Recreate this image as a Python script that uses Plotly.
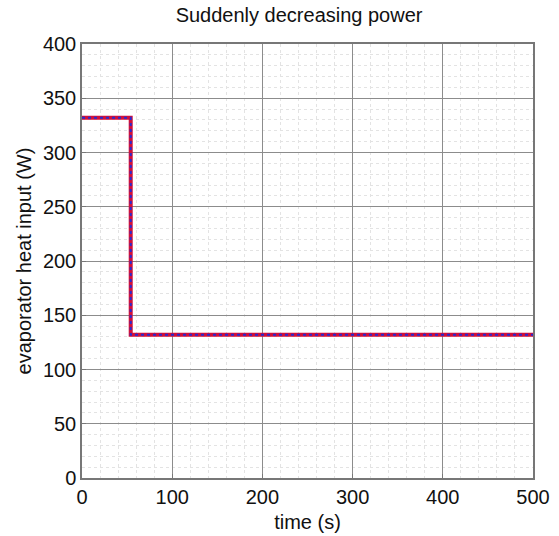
import plotly.graph_objects as go

time_s = [0, 54, 54, 500]
heat_red = [332, 332, 132, 132]
heat_blue = [332, 332, 132, 132]

x_ticks = [0, 100, 200, 300, 400, 500]
y_ticks = [0, 50, 100, 150, 200, 250, 300, 350, 400]

fig = go.Figure()
fig.add_trace(go.Scatter(x=time_s, y=heat_red, mode="lines",
                         line=dict(color="#d0103a", width=4), showlegend=False))
fig.add_trace(go.Scatter(x=time_s, y=heat_blue, mode="lines",
                         line=dict(color="#2a2ad0", width=2, dash="dot"), showlegend=False))

font = dict(family="Liberation Sans, Arial", size=20, color="#111")
fig.update_layout(
    width=559, height=536,
    margin=dict(l=82, r=26, t=44, b=58),
    paper_bgcolor="white", plot_bgcolor="white",
    title=dict(text="Suddenly decreasing power", x=0.535, xanchor="center",
               y=0.985, yanchor="top", font=font),
    font=font,
)
fig.update_xaxes(range=[0, 500], tickvals=x_ticks, showgrid=True, automargin=False,
                 gridcolor="#8c8c8c", gridwidth=1,
                 minor=dict(dtick=20, showgrid=True, gridcolor="#e3e3e3", griddash="dot"),
                 showline=True, linecolor="#777", linewidth=1.5, mirror=True,
                 ticks="inside", ticklen=4, tickcolor="#777",
                 zeroline=False, tickfont=font,
                 title=dict(text="time (s)", font=font, standoff=8))
fig.update_yaxes(range=[0, 400], tickvals=y_ticks, showgrid=True, automargin=False,
                 gridcolor="#8c8c8c", gridwidth=1,
                 minor=dict(dtick=10, showgrid=True, gridcolor="#e3e3e3", griddash="dot"),
                 showline=True, linecolor="#777", linewidth=1.5, mirror=True,
                 ticks="inside", ticklen=4, tickcolor="#777",
                 zeroline=False, tickfont=font,
                 title=dict(text="evaporator heat input (W)", font=font, standoff=6))
fig.write_html("out.html")
